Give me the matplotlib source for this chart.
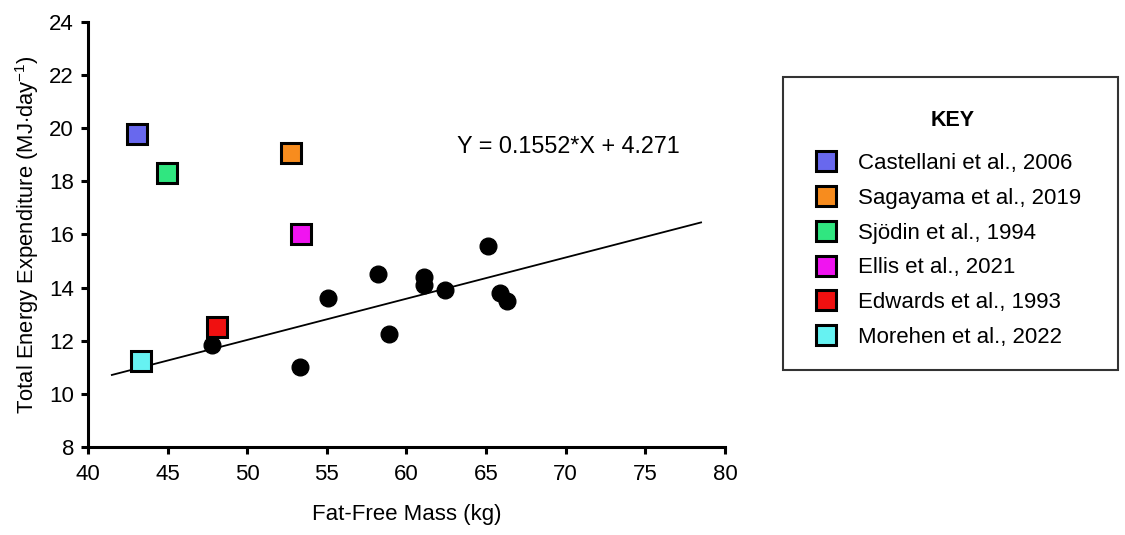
import matplotlib.pyplot as plt
from matplotlib.lines import Line2D
from matplotlib.patches import Rectangle

plt.rcParams['font.family'] = ['Liberation Sans', 'DejaVu Sans']
plt.rcParams['mathtext.fontset'] = 'custom'
plt.rcParams['mathtext.rm'] = 'Liberation Sans'
plt.rcParams['mathtext.it'] = 'Liberation Sans:italic'

# team data (black circles)
ffm_teams = [47.8, 53.3, 55.1, 58.2, 58.9, 61.1, 61.1, 62.4, 65.1, 65.9, 66.3]
tee_teams = [11.85, 11.0, 13.6, 14.5, 12.25, 14.4, 14.1, 13.9, 15.55, 13.8, 13.5]

# previous studies (coloured squares)
studies = ["Castellani et al., 2006", "Sagayama et al., 2019", "Sjödin et al., 1994",
           "Ellis et al., 2021", "Edwards et al., 1993", "Morehen et al., 2022"]
study_ffm = [43.1, 52.75, 44.95, 53.4, 48.1, 43.3]
study_tee = [19.8, 19.05, 18.3, 16.0, 12.5, 11.25]
study_colors = ['#6868ee', '#f78c1e', '#30e680', '#f014f0', '#f01010', '#66f2f2']

# regression line
slope, intercept = 0.1552, 4.271
fit_x = [41.5, 78.5]

fig = plt.figure(figsize=(11.25, 5.35), dpi=100)
ax = fig.add_axes([0.0782, 0.1645, 0.5662, 0.7944])

fit_y = [slope*x + intercept for x in fit_x]
ax.plot(fit_x, fit_y, color='black', lw=1.3, zorder=1)
ax.plot(ffm_teams, tee_teams, 'o', color='black', markersize=12, zorder=2)
for x, y, c in zip(study_ffm, study_tee, study_colors):
  ax.plot(x, y, 's', color=c, markeredgecolor='black', markeredgewidth=2.2,
          markersize=15, zorder=3)

ax.text(63.2, 19.3, 'Y = 0.1552*X + 4.271', fontsize=16.8, va='center', ha='left')

ax.set_xlim(40, 80)
ax.set_ylim(8, 24)
ax.set_xticks(range(40, 81, 5))
ax.set_yticks(range(8, 25, 2))
ax.spines['top'].set_visible(False)
ax.spines['right'].set_visible(False)
ax.spines['left'].set_linewidth(2.2)
ax.spines['bottom'].set_linewidth(2.2)
ax.tick_params(direction='out', length=5, width=2.2, labelsize=16, pad=5)
ax.tick_params(axis='x', pad=7)
ax.set_xlabel('Fat-Free Mass (kg)', fontsize=16, labelpad=14)
ax.set_ylabel('Total Energy Expenditure (MJ$\\cdot$day$^{-1}$)', fontsize=15.8, labelpad=6)

# key box
fig.patches.append(Rectangle((0.696, 0.308), 0.2978, 0.548, transform=fig.transFigure,
                             fill=False, edgecolor='#333333', lw=1.5))
fig.text(0.847, 0.775, 'KEY', fontsize=15.5, fontweight='bold', ha='center', va='center')
handles = [Line2D([], [], marker='s', linestyle='none', markersize=15,
                  markerfacecolor=c, markeredgecolor='black', markeredgewidth=2.2)
           for c in study_colors]
fig.legend(handles, studies, loc='upper left', bbox_to_anchor=(0.7245, 0.714),
           frameon=False, fontsize=16, labelspacing=0.62, handletextpad=0.95,
           handlelength=1.0, borderpad=0, borderaxespad=0)

fig.savefig('out.png', dpi=100)
